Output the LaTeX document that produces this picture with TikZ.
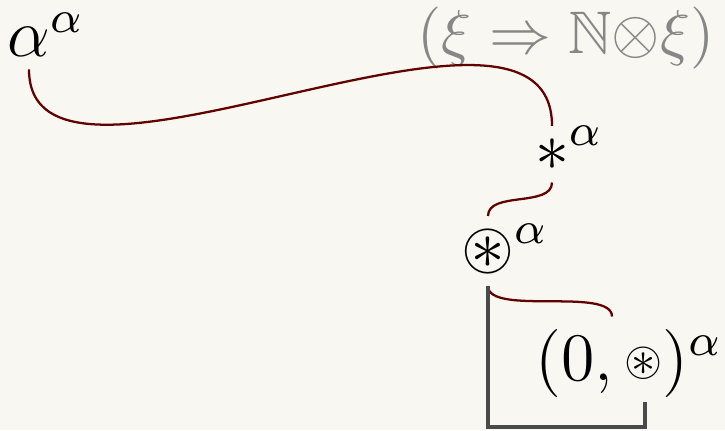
\documentclass[tikz,border=0pt]{standalone}
\usepackage{amsmath}
\usepackage{amssymb}
\usepackage{tikz}

\definecolor{paper}{HTML}{F8F7F1}
\definecolor{wire}{HTML}{600000}
\definecolor{faded}{HTML}{878787}
\definecolor{frame}{HTML}{4A4A4A}

% exponent that takes no room
\newcommand{\expo}[1]{\rlap{\smash{$^{#1}$}}}
% small circled star
\newcommand{\smallast}{\vcenter{\hbox{\scalebox{0.72}{$\circledast$}}}}

\begin{document}
\begin{tikzpicture}[x=0.1765pt,y=0.1765pt,
  term/.style={inner sep=2pt,anchor=base,font=\large},
  ghost/.style={inner sep=0pt,anchor=base,text=faded,font=\fontsize{10.6}{13}\selectfont},
  link/.style={wire,line width=0.4pt},
  hookline/.style={frame,line width=0.6pt}]

\useasboundingbox (0,0) rectangle (725,-430);
\fill[paper] (0,0) rectangle (725,-430);

\node[term] (a) at (29,-57) {$\alpha\expo{\alpha}$};
\node[ghost] (t) at (566,-54) {$(\xi \Rightarrow \mathbb{N}{\otimes}\xi)$};
\node[term] (s) at (552,-170) {$\ast\expo{\alpha}$};
\node[term] (o) at (488,-268) {$\circledast\expo{\alpha}$};
\node[term] (p) at (612,-380) {$(0,\smallast)\expo{\alpha}$};

% wires
\draw[link] (a.south) .. controls +(0,-170) and +(0,180) .. (s.north);
\draw[link] (s.south) .. controls +(0,-25) and +(0,25) .. (o.north);
\draw[link] (o.south) .. controls +(0,-30) and +(0,30) .. (p.north);

% bracket
\coordinate (hook) at (645,-402);
\coordinate (low) at (0,-427);
\draw[hookline] (o.south) |- (hook |- low) -- (hook);

\end{tikzpicture}
\end{document}
